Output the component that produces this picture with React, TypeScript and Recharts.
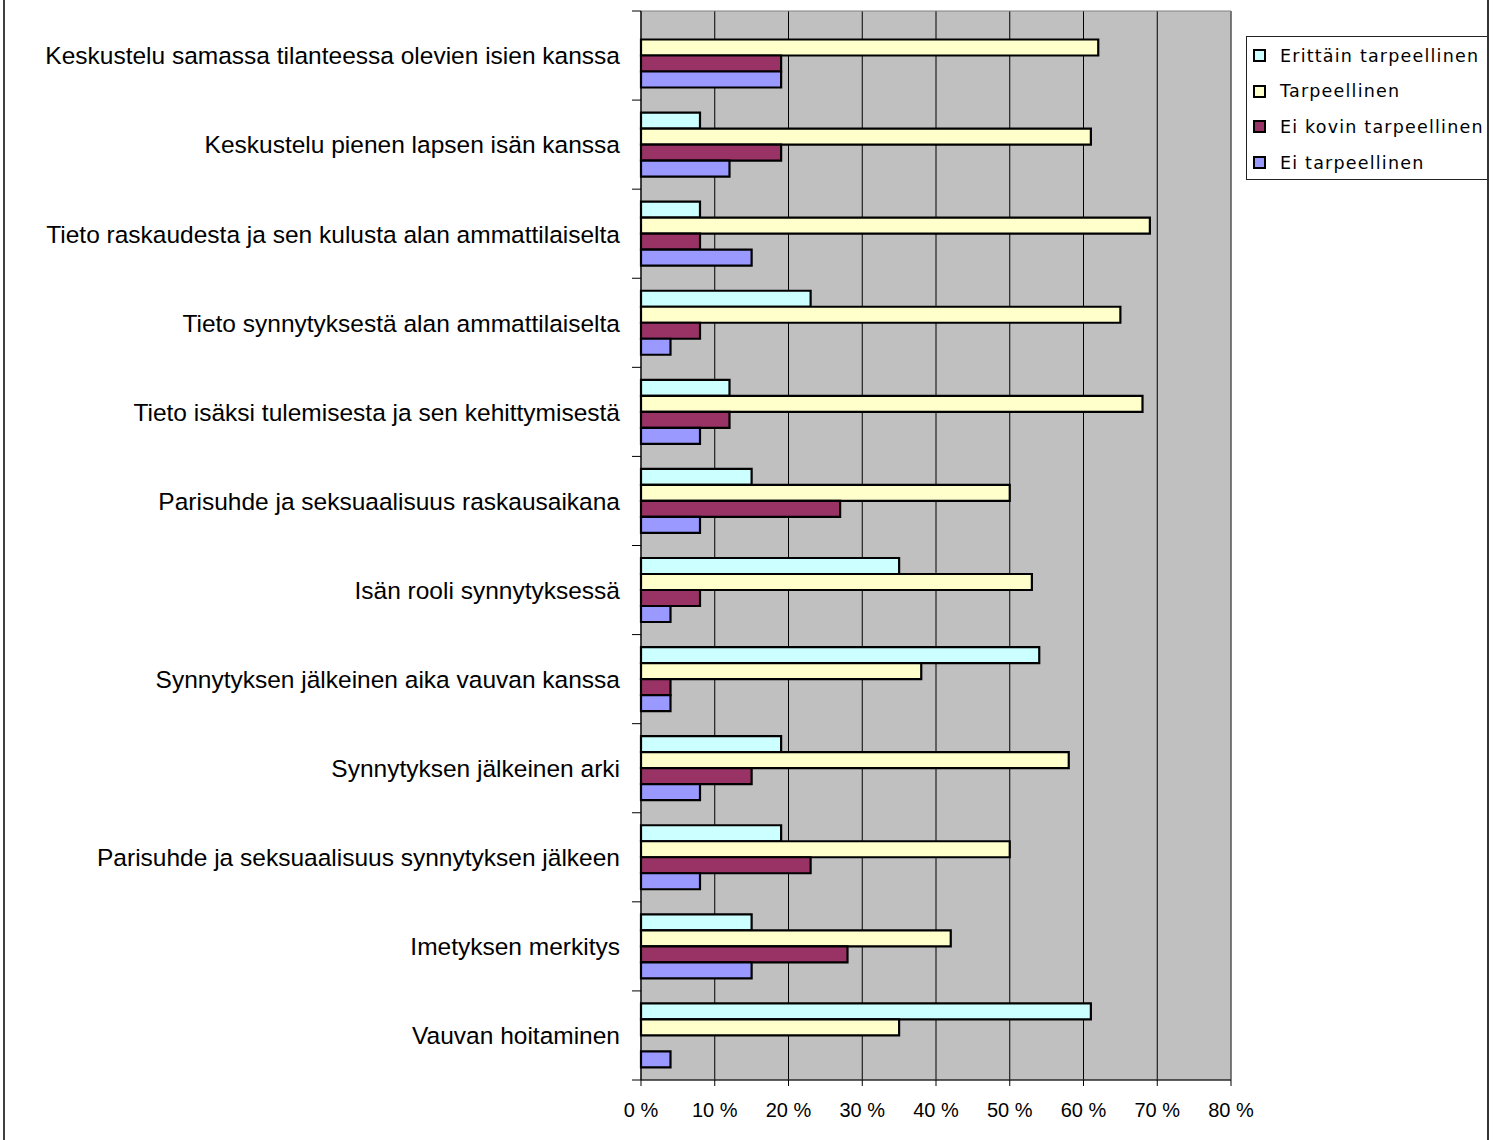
import {
  BarChart,
  Bar,
  XAxis,
  YAxis,
  CartesianGrid,
  Legend,
  ReferenceArea,
} from "recharts";

// survey answers, % of respondents per topic
const categories = [
  "Keskustelu samassa tilanteessa olevien isien kanssa",
  "Keskustelu pienen lapsen isän kanssa",
  "Tieto raskaudesta ja sen kulusta alan ammattilaiselta",
  "Tieto synnytyksestä alan ammattilaiselta",
  "Tieto isäksi tulemisesta ja sen kehittymisestä",
  "Parisuhde ja seksuaalisuus raskausaikana",
  "Isän rooli synnytyksessä",
  "Synnytyksen jälkeinen aika vauvan kanssa",
  "Synnytyksen jälkeinen arki",
  "Parisuhde ja seksuaalisuus synnytyksen jälkeen",
  "Imetyksen merkitys",
  "Vauvan hoitaminen",
];

const erittain = [0, 8, 8, 23, 12, 15, 35, 54, 19, 19, 15, 61];
const tarpeellinen = [62, 61, 69, 65, 68, 50, 53, 38, 58, 50, 42, 35];
const eiKovin = [19, 19, 8, 8, 12, 27, 8, 4, 15, 23, 28, 0];
const eiTarpeellinen = [19, 12, 15, 4, 8, 8, 4, 4, 8, 8, 15, 4];

const xTicks = [0, 10, 20, 30, 40, 50, 60, 70, 80];

const series = [
  { key: "erittain", name: "Erittäin tarpeellinen", color: "#CCFFFF" },
  { key: "tarpeellinen", name: "Tarpeellinen", color: "#FFFFCC" },
  { key: "eiKovin", name: "Ei kovin tarpeellinen", color: "#993366" },
  { key: "eiTarpeellinen", name: "Ei tarpeellinen", color: "#9999FF" },
];

const data = categories.map((name, i) => ({
  name,
  erittain: erittain[i],
  tarpeellinen: tarpeellinen[i],
  eiKovin: eiKovin[i],
  eiTarpeellinen: eiTarpeellinen[i],
}));

const WIDTH = 1498;
const HEIGHT = 1140;
const MARGIN = { top: 11, right: 267, bottom: 0, left: 0 };
const Y_AXIS_W = 641;
const X_AXIS_H = 60;
const PLOT_H = HEIGHT - MARGIN.top - MARGIN.bottom - X_AXIS_H;
const BAND = PLOT_H / categories.length;
const TICK_SIZE = 9;
const TICK_MARGIN = 12;

// category label centred in its band, tick marks on the band edges
const CategoryTick = (props: any) => {
  const { x, y, payload, index } = props;
  const x1 = x + TICK_MARGIN;
  const x2 = x1 + TICK_SIZE;
  const half = BAND / 2;
  return (
    <g>
      <line x1={x1} x2={x2} y1={y - half} y2={y - half} stroke="#000" />
      {index === categories.length - 1 && (
        <line x1={x1} x2={x2} y1={y + half} y2={y + half} stroke="#000" />
      )}
      <text
        x={x}
        y={y}
        dy="0.36em"
        textAnchor="end"
        fontFamily="'Liberation Sans', Arial, sans-serif"
        fontSize={24.5}
        fill="#000"
      >
        {payload.value}
      </text>
    </g>
  );
};

// legend keeps the series order (recharts would sort it by name)
const LegendBox = () => (
  <div
    style={{
      width: 243,
      height: 144,
      boxSizing: "border-box",
      border: "1px solid #222",
      background: "#fff",
      paddingTop: 1,
      fontFamily: "'DejaVu Sans', Verdana, sans-serif",
      fontSize: 17.5,
      letterSpacing: 1.2,
      color: "#000",
    }}
  >
    {series.map((s) => (
      <div
        key={s.key}
        style={{ display: "flex", alignItems: "center", height: 35.6 }}
      >
        <span
          style={{
            display: "inline-block",
            flex: "none",
            width: 9,
            height: 9,
            border: "2px solid #000",
            background: s.color,
            marginLeft: 6,
            marginRight: 14,
          }}
        />
        <span style={{ whiteSpace: "nowrap" }}>{s.name}</span>
      </div>
    ))}
  </div>
);

export default function App() {
  return (
    <div
      style={{
        position: "absolute",
        left: 0,
        top: 0,
        width: WIDTH,
        height: HEIGHT,
        background: "#fff",
      }}
    >
      <BarChart
        width={WIDTH}
        height={HEIGHT}
        data={data}
        layout="vertical"
        margin={MARGIN}
        barCategoryGap={12.5}
        barGap={0}
      >
        <CartesianGrid
          horizontal={false}
          stroke="#000"
          fill="#C0C0C0"
          fillOpacity={1}
        />
        <ReferenceArea x1={0} x2={80} fill="none" stroke="#808080" />
        <XAxis
          type="number"
          domain={[0, 80]}
          ticks={xTicks}
          interval={0}
          height={X_AXIS_H}
          tickSize={6}
          tickMargin={17}
          tickFormatter={(v: number) => `${v} %`}
          axisLine={{ stroke: "#000" }}
          tickLine={{ stroke: "#000" }}
          tick={{
            fill: "#000",
            fontSize: 20,
            fontFamily: "'Liberation Sans', Arial, sans-serif",
          }}
        />
        <YAxis
          type="category"
          dataKey="name"
          width={Y_AXIS_W}
          interval={0}
          tickSize={TICK_SIZE}
          tickMargin={TICK_MARGIN}
          tickLine={false}
          axisLine={{ stroke: "#000" }}
          tick={<CategoryTick />}
        />
        <Legend
          layout="horizontal"
          align="center"
          verticalAlign="middle"
          wrapperStyle={{ left: 1246, top: 36, width: 243 }}
          content={<LegendBox />}
        />
        {series.map((s) => (
          <Bar
            key={s.key}
            dataKey={s.key}
            name={s.name}
            fill={s.color}
            stroke="#000"
            strokeWidth={2.2}
            isAnimationActive={false}
          />
        ))}
      </BarChart>
      {/* side rules of the chart frame */}
      <div
        style={{
          position: "absolute",
          left: 3,
          top: 0,
          width: 1486,
          height: HEIGHT,
          boxSizing: "border-box",
          borderLeft: "2px solid #404040",
          borderRight: "2px solid #333",
          pointerEvents: "none",
        }}
      />
    </div>
  );
}
